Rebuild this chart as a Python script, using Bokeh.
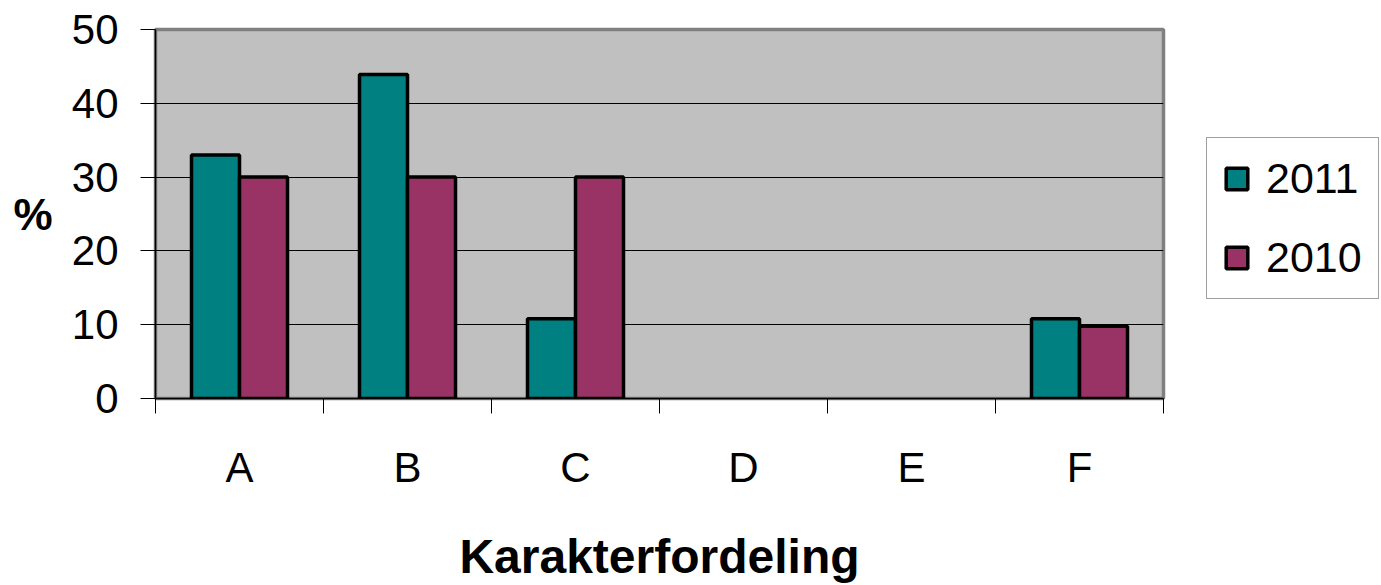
import numpy as np
from bokeh.plotting import figure
from bokeh.layouts import row
from bokeh.models import (ColumnDataSource, Range1d, FixedTicker, Legend, LegendItem, LinearAxis)
from bokeh.embed import file_html
from bokeh.resources import INLINE

categories = ["A", "B", "C", "D", "E", "F"]
series_2011 = [33.0, 43.9, 10.8, 0, 0, 10.8]
series_2010 = [30.0, 30.0, 30.0, 0, 0, 9.8]
series_names = ["2011", "2010"]
y_ticks = [0, 10, 20, 30, 40, 50]

FONT = "Liberation Sans"
TEAL = "#008080"
PLUM = "#993366"

idx = np.arange(len(categories))
bw = 1.0 / 3.5
src = ColumnDataSource(dict(
    x11=idx + 0.5 - bw / 2, x10=idx + 0.5 + bw / 2,
    y11=series_2011, y10=series_2010,
    lc11=["black" if v > 0 else None for v in series_2011],
    lc10=["black" if v > 0 else None for v in series_2010],
))

p = figure(width=1170, height=585, output_backend="svg", toolbar_location=None,
           x_range=Range1d(0, len(categories)), y_range=Range1d(0, 50),
           min_border_left=155, min_border_right=7, min_border_top=29, min_border_bottom=187)
p.background_fill_color = "#C0C0C0"
p.border_fill_color = "white"
p.outline_line_color = "#808080"
p.outline_line_width = 3.5

p.vbar(x="x11", top="y11", width=bw, source=src, fill_color=TEAL,
       line_color="lc11", line_width=3.5)
p.vbar(x="x10", top="y10", width=bw, source=src, fill_color=PLUM,
       line_color="lc10", line_width=3.5)

# grid
p.xgrid.visible = False
p.ygrid.grid_line_color = "black"
p.ygrid.grid_line_width = 1
p.ygrid.ticker = FixedTicker(ticks=y_ticks)

# y axis
ya = p.yaxis[0]
ya.ticker = FixedTicker(ticks=y_ticks)
ya.axis_line_color = "black"
ya.axis_line_width = 1.5
ya.major_tick_out = 15
ya.major_tick_in = 0
ya.minor_tick_out = 0
ya.minor_tick_in = 0
ya.major_tick_line_color = "black"
ya.major_label_standoff = 22
ya.major_label_text_font = FONT
ya.major_label_text_font_size = "42px"
ya.major_label_text_color = "black"

# "%" as a second, label-only y axis (horizontal text)
pa = LinearAxis(ticker=FixedTicker(ticks=[25]), major_label_overrides={25: "%"})
pa.axis_line_color = None
pa.major_tick_out = 0
pa.major_tick_in = 0
pa.minor_tick_out = 0
pa.minor_tick_in = 0
pa.major_label_standoff = 16
pa.major_label_text_font = FONT
pa.major_label_text_font_size = "44px"
pa.major_label_text_font_style = "bold"
pa.major_label_text_color = "black"
p.add_layout(pa, "left")

# x axis
xa = p.xaxis[0]
xa.ticker = FixedTicker(ticks=list(idx + 0.5), minor_ticks=list(range(len(categories) + 1)))
xa.major_label_overrides = {float(i + 0.5): c for i, c in enumerate(categories)}
xa.axis_line_color = "black"
xa.axis_line_width = 1.5
xa.major_tick_out = 0
xa.major_tick_in = 0
xa.minor_tick_out = 15
xa.minor_tick_in = 0
xa.minor_tick_line_color = "black"
xa.major_label_standoff = 30
xa.major_label_text_font = FONT
xa.major_label_text_font_size = "42px"
xa.major_label_text_color = "black"
xa.axis_label = "Karakterfordeling"
xa.axis_label_text_font = FONT
xa.axis_label_text_font_size = "48px"
xa.axis_label_text_font_style = "bold"
xa.axis_label_text_color = "black"
xa.axis_label_standoff = 36

# legend panel (separate figure to the right of the plot area)
q = figure(width=211, height=585, output_backend="svg", toolbar_location=None,
           x_range=Range1d(0, 1), y_range=Range1d(0, 1),
           min_border=0, outline_line_color=None)
q.axis.visible = False
q.grid.visible = False
q.background_fill_color = "white"
q.border_fill_color = "white"
# legend proxies: tiny glyphs hidden underneath the opaque legend box
proxy = ColumnDataSource(dict(x=[0.6], bottom=[0.45], top=[0.5]))
g11 = q.vbar(x="x", bottom="bottom", top="top", width=0.05, source=proxy,
             fill_color=TEAL, line_color="black", line_width=3.5, level="underlay")
g10 = q.vbar(x="x", bottom="bottom", top="top", width=0.05, source=proxy,
             fill_color=PLUM, line_color="black", line_width=3.5, level="underlay")

legend = Legend(items=[LegendItem(label=series_names[0], renderers=[g11]),
                       LegendItem(label=series_names[1], renderers=[g10])],
                location=(36, 99))
legend.label_text_font = FONT
legend.label_text_font_size = "43px"
legend.label_text_color = "black"
legend.glyph_width = 27
legend.glyph_height = 27
legend.label_height = 40
legend.spacing = 30
legend.padding = 16
legend.margin = 0
legend.label_standoff = 16
legend.border_line_color = "#404040"
legend.border_line_width = 1.2
legend.background_fill_color = "white"
legend.background_fill_alpha = 1
q.add_layout(legend, "center")

layout = row(p, q, spacing=0)
open("out.html", "w").write(file_html(layout, INLINE))
